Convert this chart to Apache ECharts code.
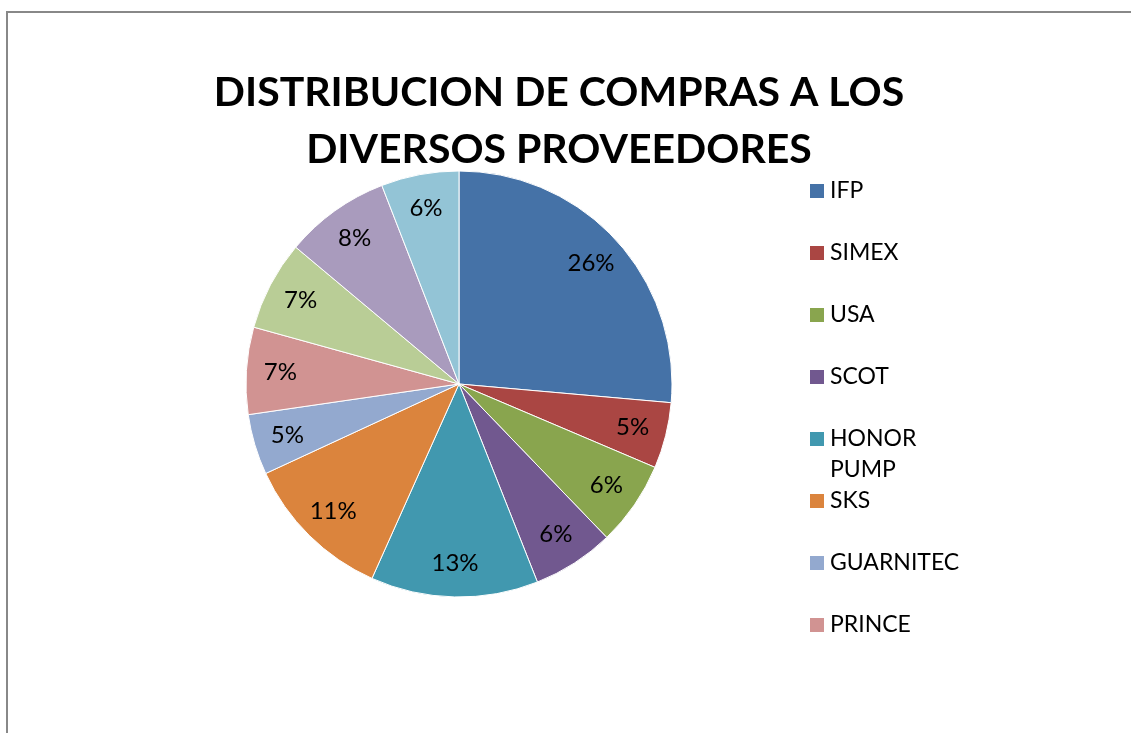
<!DOCTYPE html>
<html>
<head>
<meta charset="utf-8">
<script src="https://cdn.jsdelivr.net/npm/echarts@6/dist/echarts.min.js"></script>
<style>
html,body{margin:0;padding:0;background:#fff;}
#c{width:1131px;height:733px;}
</style>
</head>
<body>
<div id="c"></div>
<script>
const titleText = 'DISTRIBUCION DE COMPRAS A LOS\nDIVERSOS PROVEEDORES';
const categories = ['IFP', 'SIMEX', 'USA', 'SCOT', 'HONOR PUMP', 'SKS', 'GUARNITEC', 'PRINCE', 'PROVEEDOR 9', 'PROVEEDOR 10', 'PROVEEDOR 11'];
const values = [26.4, 5.0, 6.4, 6.2, 12.7, 11.4, 4.6, 6.6, 6.8, 8.0, 5.9];
const colors = ['#4572A7', '#AA4643', '#89A54E', '#71588F', '#4198AF', '#DB843D', '#93A9CF', '#D19392', '#B9CD96', '#A99BBD', '#93C4D6'];
const legendShown = categories.slice(0, 8);

const data = categories.map((n, i) => ({ name: n, value: values[i], itemStyle: { color: colors[i] } }));
const labelData = categories.map((n, i) => ({ name: n, value: values[i] }));

const font = 'Lato';
const legends = legendShown.map((n, i) => {
  const yc = 191 + i * 62;
  const two = n === 'HONOR PUMP';
  return {
    data: [n],
    orient: 'vertical',
    left: 808,
    top: two ? yc - 46.5 : yc - 15.5,
    padding: 0,
    itemWidth: 16,
    itemHeight: 16,
    icon: 'rect',
    selectedMode: false,
    formatter: two ? '\nHONOR\nPUMP' : '{name}',
    textStyle: { fontFamily: font, fontSize: 23, color: '#000', lineHeight: 31 }
  };
});

const chart = echarts.init(document.getElementById('c'), null, { renderer: 'canvas' });
chart.setOption({
  animation: false,
  backgroundColor: '#fff',
  title: {
    text: titleText,
    left: 559,
    top: 64,
    padding: 0,
    textAlign: 'center',
    textVerticalAlign: 'top',
    textStyle: { fontFamily: font, fontWeight: 'bold', fontSize: 41, lineHeight: 57, color: '#000' }
  },
  graphic: [{
    type: 'rect',
    shape: { x: 7, y: 12, width: 1300, height: 900 },
    style: { fill: 'none', stroke: '#888888', lineWidth: 2 },
    silent: true,
    z: -1
  }],
  legend: legends,
  series: [
    {
      type: 'pie',
      center: [459, 384],
      radius: [0, 213],
      startAngle: 90,
      clockwise: true,
      avoidLabelOverlap: false,
      label: { show: false },
      labelLine: { show: false },
      itemStyle: { borderColor: '#fff', borderWidth: 1 },
      emphasis: { disabled: true },
      data: data
    },
    {
      type: 'pie',
      center: [459, 384],
      radius: [0, 352],
      startAngle: 90,
      clockwise: true,
      silent: true,
      avoidLabelOverlap: false,
      itemStyle: { color: 'rgba(0,0,0,0)', borderWidth: 0 },
      labelLine: { show: false },
      emphasis: { disabled: true },
      label: {
        show: true,
        position: 'inside',
        fontFamily: font,
        fontSize: 24,
        color: '#000',
        formatter: p => Math.round(p.percent) + '%'
      },
      data: labelData
    }
  ]
});
</script>
</body>
</html>
